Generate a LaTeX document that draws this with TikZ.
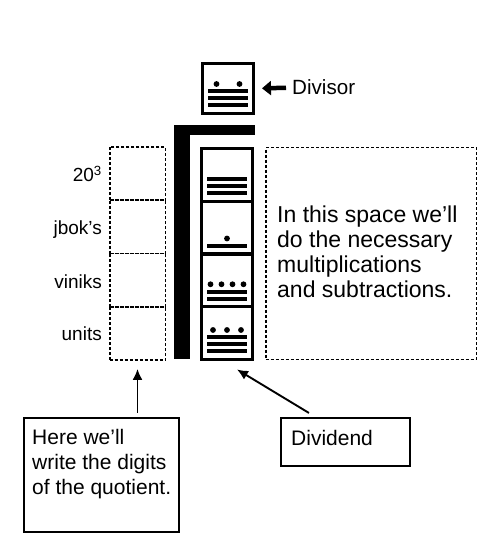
\documentclass[tikz,border=0pt]{standalone}
\usepackage{fontspec}
\setmainfont{Liberation Sans}
\usetikzlibrary{calc,arrows.meta}

\tikzset{
  digitcell/.style={draw,line width=3pt,minimum width=51pt,minimum height=52.75pt,inner sep=0pt},
  emptycell/.style={draw,line width=1.7pt,dash pattern=on 3pt off 2pt,inner sep=0pt},
  notebox/.style={draw,line width=1.7pt,inner sep=0pt},
  pointer/.style={line width=1.9pt,-{Latex[length=11pt,width=10pt]}},
  placelabel/.style={font=\fontsize{19}{22}\selectfont,inner sep=0pt,anchor=base east},
  bigtext/.style={font=\fontsize{21}{25}\selectfont,inner sep=0pt,align=left}
}

% #1 cell, #2 dots, #3 bars, #4 dot spacing
\newcommand{\mayadigit}[4]{%
  \foreach \b in {1,...,#3}{
    \fill ($(#1.south)+(-20,{-9.5-7*(\b-1)-2})$) rectangle ($(#1.south)+(20,{-9.5-7*(\b-1)+2})$);
  }
  \ifnum#2>0
    \foreach \d in {1,...,#2}{
      \fill ($(#1.south)+({(\d-(#2+1)/2)*#4},{-9.5-7*(#3-1)-7.5})$) circle (2.9pt);
    }
  \fi
}

\begin{document}
\begin{tikzpicture}[x=1pt,y=-1pt]
  \useasboundingbox (0,0) rectangle (499,545);

  % divisor
  \node [digitcell,minimum height=50pt] (divisor) at (228,88.5) {};
  \mayadigit{divisor}{2}{3}{23}
  \node [bigtext,font=\fontsize{20.6}{25}\selectfont,anchor=base west] (divtxt) at (292,95) {Divisor};
  \draw [line width=4.5pt,-{Triangle[length=9pt,width=14pt]},shorten <=6pt,shorten >=7pt]
    (divtxt.west) -- (divisor.east);

  % division bracket
  \fill (174,125) rectangle (190,359);
  \fill (174,125) rectangle (255,135);

  % dividend digits
  \node [digitcell] (d1) at (227,174.9) {};
  \node [digitcell] (d2) at (227,227.6) {};
  \node [digitcell] (d3) at (227,280.4) {};
  \node [digitcell] (d4) at (227,333.1) {};
  \mayadigit{d1}{0}{3}{0}
  \mayadigit{d2}{1}{1}{0}
  \mayadigit{d3}{4}{2}{11}
  \mayadigit{d4}{3}{3}{14}

  % quotient places
  \foreach \i/\y in {1/173.6,2/226.9,3/280.1,4/333.4}
    \node [emptycell,minimum width=55.7pt,minimum height=53.25pt] (q\i) at (137.5,\y) {};
  \node [placelabel] (l1) at (102,182) {20\textsuperscript{3}};
  \node [placelabel] (l2) at (102,234) {jbok’s};
  \node [placelabel] (l3) at (102,288) {viniks};
  \node [placelabel] (l4) at (102,340) {units};

  % working space
  \node [emptycell,minimum width=210.7pt,minimum height=211.7pt] (work) at (371,253.5) {};
  \node [bigtext,font=\fontsize{23}{25}\selectfont,anchor=base west] (worktxt) at (277,297)
    {In this space we’ll\\do the necessary\\multiplications\\and subtractions.};

  % notes
  \node [notebox,minimum width=155.4pt,minimum height=114.4pt] (quot) at (101.5,475) {};
  \node [bigtext,anchor=base west] (quottxt) at (32,494)
    {Here we’ll\\write the digits\\of the quotient.};
  \node [notebox,minimum width=129.4pt,minimum height=48.4pt] (dividend) at (345.5,442) {};
  \node [bigtext,anchor=base west] (dividtxt) at (291,445) {Dividend};

  \draw [pointer] ($(quot.north -| q4.south)+(0,-4)$) -- ($(q4.south)+(0,8)$);
  \draw [pointer] ($(dividend.north west)+(29,-4)$) -- ($(d4.south)+(10,8.5)$);
\end{tikzpicture}
\end{document}
